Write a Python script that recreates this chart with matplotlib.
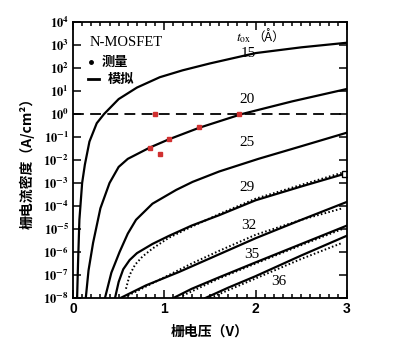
import numpy as np
import matplotlib.pyplot as plt
from matplotlib.ticker import MultipleLocator, NullLocator

plt.rcParams['mathtext.fontset'] = 'stix'
cjk = ['Noto Sans CJK SC', 'DejaVu Sans']
serif = ['Liberation Serif', 'Noto Sans CJK SC']

# 模拟曲线：栅电压 (V) 与 log10 栅电流密度
sim_v = {
    '15': [0.045, 0.055, 0.07, 0.1, 0.13, 0.18, 0.26, 0.34, 0.5, 0.7, 0.95, 1.2, 1.5, 2.0, 2.5, 3.0],
    '20': [0.14, 0.17, 0.22, 0.3, 0.4, 0.5, 0.6, 0.84, 1.05, 1.38, 1.85, 2.4, 3.0],
    '25': [0.35, 0.42, 0.51, 0.6, 0.69, 0.87, 1.13, 1.31, 1.6, 2.03, 2.5, 3.0],
    '29': [0.46, 0.5, 0.55, 0.62, 0.7, 0.87, 1.05, 1.3, 1.6, 2.0, 2.5, 3.0],
    '32': [0.52, 0.8, 1.16, 1.6, 2.0, 2.5, 3.0],
    '35': [1.1, 1.3, 1.6, 2.0, 2.5, 3.0],
    '36': [1.45, 1.7, 2.0, 2.5, 3.0],
}
sim_log = {
    '15': [-8, -6.5, -4.6, -3.0, -2.2, -1.2, -0.4, 0.0, 0.65, 1.15, 1.6, 1.9, 2.2, 2.65, 2.9, 3.1],
    '20': [-8, -6.8, -5.6, -4.1, -3.0, -2.3, -1.95, -1.46, -1.1, -0.6, 0.0, 0.55, 1.09],
    '25': [-8, -6.9, -6.0, -5.2, -4.6, -3.9, -3.3, -2.95, -2.5, -1.95, -1.4, -0.81],
    '29': [-8, -7.3, -6.75, -6.35, -6.05, -5.65, -5.3, -4.85, -4.4, -3.75, -3.15, -2.57],
    '32': [-8, -7.45, -6.87, -6.1, -5.4, -4.6, -3.82],
    '35': [-8, -7.6, -7.1, -6.45, -5.65, -4.85],
    '36': [-8, -7.55, -7.05, -6.15, -5.29],
}

# 测量点
meas_v = {
    '29': [0.58, 0.62, 0.68, 0.76, 0.87, 1.05, 1.3, 1.6, 2.0, 2.5, 2.95],
    '32': [0.6, 0.8, 1.05, 1.3, 1.6, 2.0, 2.5, 2.95],
    '35': [1.2, 1.6, 2.0, 2.5, 2.95],
    '36': [1.5, 2.0, 2.5, 2.95],
}
meas_log = {
    '29': [-7.6, -7.0, -6.55, -6.2, -5.85, -5.38, -4.9, -4.35, -3.68, -3.08, -2.55],
    '32': [-7.9, -7.5, -7.0, -6.5, -5.95, -5.25, -4.6, -4.1],
    '35': [-7.9, -7.15, -6.5, -5.7, -5.0],
    '36': [-8.0, -7.15, -6.3, -5.6],
}

# 曲线标注位置
lab_v = {'15': 1.92, '20': 1.9, '25': 1.9, '29': 1.9, '32': 1.92, '35': 1.96, '36': 2.25}
lab_log = {'15': 2.62, '20': 0.65, '25': -1.26, '29': -3.2, '32': -4.83, '35': -6.13, '36': -7.3}

red_v = [0.84, 1.05, 1.38, 1.82, 0.9, 0.95]
red_log = [-1.46, -1.1, -0.58, 0.0, 0.0, -1.75]

fig = plt.figure(figsize=(4, 3.48), dpi=100)
ax = fig.add_axes([0.1825, 0.1437, 0.685, 0.793])
ax.set_yscale('log')

for k in sim_v:
    ax.plot(sim_v[k], 10.0 ** np.array(sim_log[k]), color='black', lw=1.6)
for k in meas_v:
    ax.plot(meas_v[k], 10.0 ** np.array(meas_log[k]), color='black', lw=1.4,
            ls=(0, (0.8, 1.2)))
ax.plot([2.98], [10 ** -2.6], marker='s', ms=4, mfc='white', mec='black', mew=1)

ax.axhline(1.0, color='black', lw=1.3, ls=(0, (6, 3.5)))
ax.plot(red_v, 10.0 ** np.array(red_log), ls='none', marker='s', ms=3,
        color='#d03030')

for k in lab_v:
    ax.text(lab_v[k], 10 ** lab_log[k], k, family=serif, fontsize=11,
            ha='center', va='center')

ax.text(0.185, 10 ** 3.13, 'N-MOSFET', family=serif, fontsize=10.5, va='center')
ax.plot([0.2], [10 ** 2.26], marker='o', ms=2.5, color='black')
ax.text(0.315, 10 ** 2.26, '测量', family=cjk, fontsize=9.5, fontweight='bold',
        va='center')
ax.plot([0.16, 0.29], [10 ** 1.52, 10 ** 1.52], color='black', lw=2)
ax.text(0.38, 10 ** 1.52, '模拟', family=cjk, fontsize=9.5, fontweight='bold',
        va='center')
ax.text(1.78, 10 ** 3.3, r'$t_{\rm ox}$', fontsize=10, va='center')
ax.text(1.96, 10 ** 3.3, '（Å）', family=cjk, fontsize=9, va='center')

ax.set_xlim(0, 3)
ax.set_ylim(1e-8, 1e4)
ax.set_xticks([0, 1, 2, 3])
ax.set_xticklabels(['0', '1', '2', '3'], family='Liberation Sans',
                   fontweight='bold', fontsize=10)
ax.xaxis.set_minor_locator(MultipleLocator(0.1))
exps = list(range(-8, 5))
ax.set_yticks([10.0 ** e for e in exps])
ax.set_yticklabels([r'$\mathbf{10^{%d}}$' % e for e in exps], fontsize=9)
ax.yaxis.set_minor_locator(NullLocator())
ax.tick_params(which='both', direction='in', top=True, right=True, width=1.1)
ax.tick_params(which='major', length=6, pad=3)
ax.tick_params(which='minor', length=3)
for s in ax.spines.values():
    s.set_linewidth(1.3)

ax.set_xlabel('栅电压（V）', family=cjk, fontsize=10, fontweight='bold',
              labelpad=6)
ax.set_ylabel('栅电流密度（A/cm²）', family=cjk, fontsize=10, fontweight='bold',
              labelpad=6)

fig.savefig('out.png', dpi=100)
